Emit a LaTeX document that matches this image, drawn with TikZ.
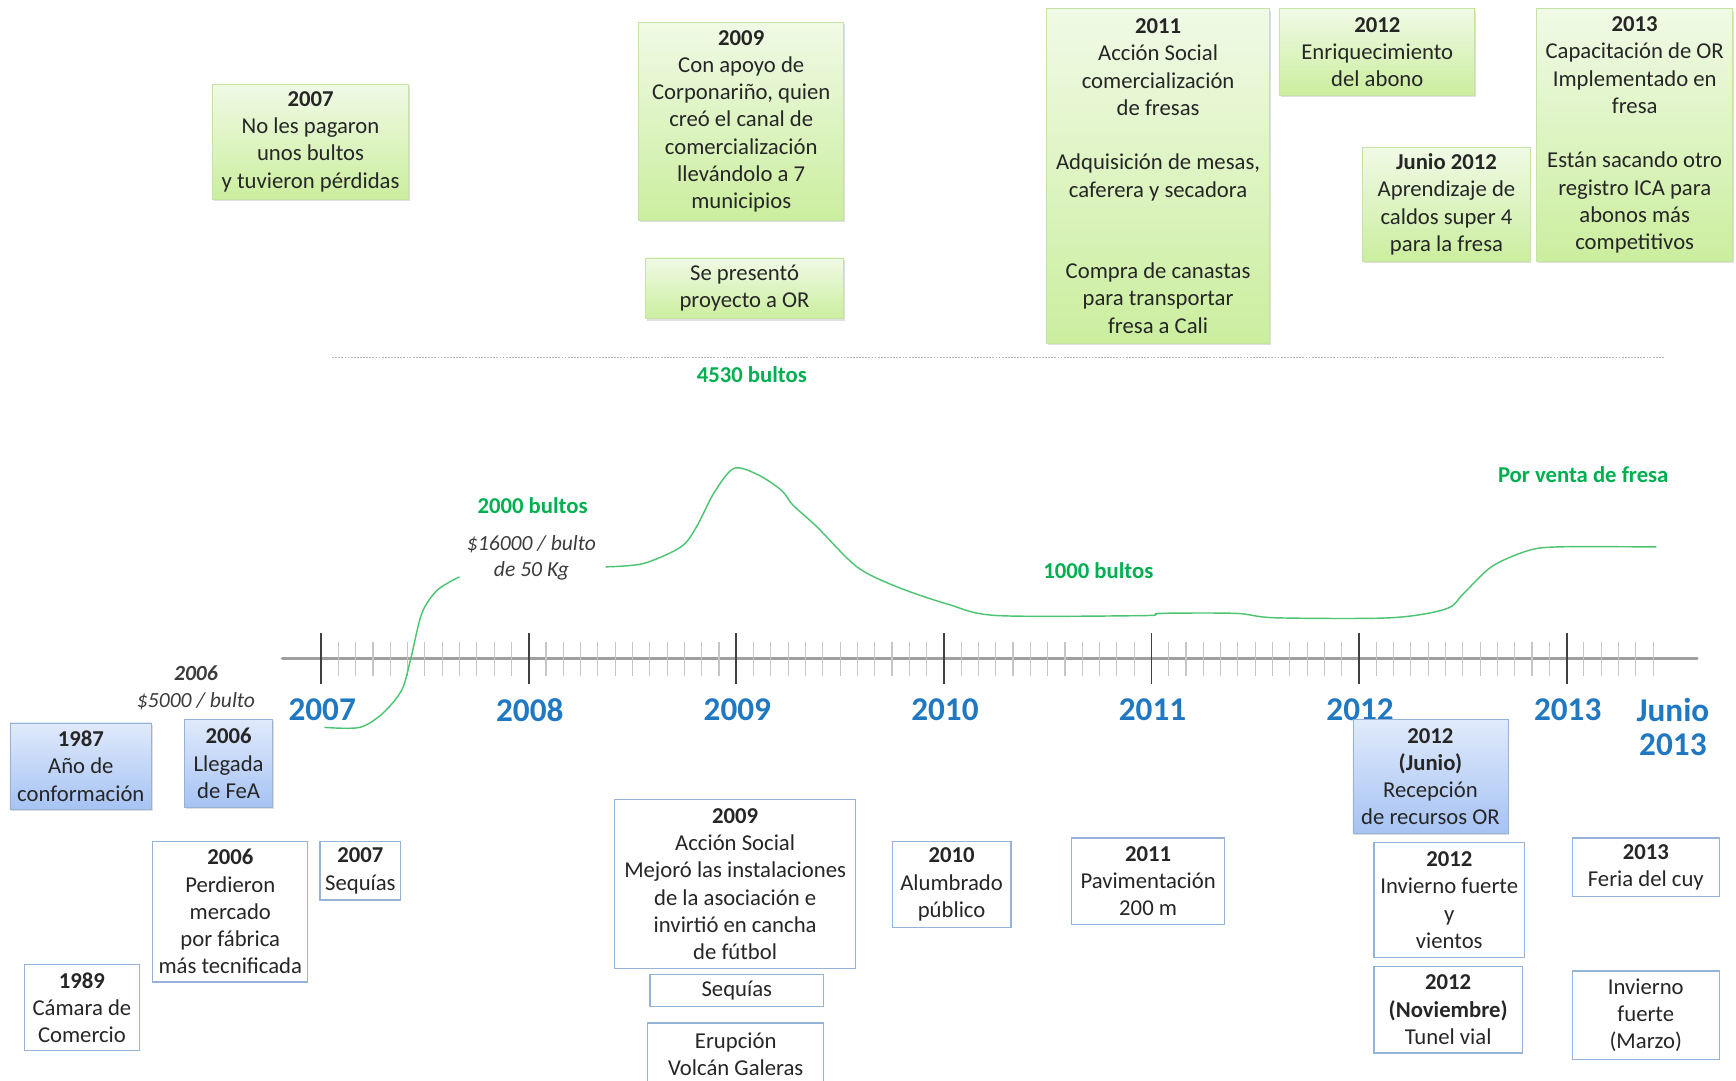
\documentclass[tikz,border=0pt]{standalone}
\usepackage{fontspec}
\setmainfont{Carlito}
\usepackage{tikz}
\usetikzlibrary{shadows}
\definecolor{leaf}{HTML}{00B050}
\definecolor{curvegreen}{HTML}{4CC472}
\definecolor{yearblue}{HTML}{1F78C1}
\definecolor{inkgray}{HTML}{262626}
\definecolor{palegreen}{HTML}{F0FAE6}
\definecolor{deepgreen}{HTML}{CBEE9E}
\definecolor{greenedge}{HTML}{C4E3A4}
\definecolor{paleblue}{HTML}{E0EAFC}
\definecolor{deepblue}{HTML}{A6C3F3}
\definecolor{blueedge}{HTML}{95B3D7}
\tikzset{%
    every node/.style={text=inkgray, font=\fontsize{20.5}{24.6}\selectfont, align=center, inner sep=0pt},
    boxsize/.style 2 args={minimum width=#1pt, minimum height=#2pt},
    greenbox/.style={draw=greenedge, line width=0.8pt, top color=palegreen, bottom color=deepgreen,
        drop shadow={shadow xshift=1.2pt, shadow yshift=-1.5pt, opacity=0.25}},
    bluebox/.style={draw=blueedge, line width=0.8pt, top color=paleblue, bottom color=deepblue,
        drop shadow={shadow xshift=1.2pt, shadow yshift=-1.5pt, opacity=0.25}},
    whitebox/.style={draw=blueedge, line width=1.2pt, fill=white},
    greennote/.style={text=leaf, font=\fontsize{20.5}{24.6}\selectfont\bfseries},
    pricenote/.style={text=inkgray!90, font=\fontsize{19.5}{24}\selectfont\itshape},
    yearlabel/.style={text=yearblue, font=\fontsize{30}{31}\selectfont\bfseries},
    salescurve/.style={curvegreen, line width=1.3pt}
}

\begin{document}
\begin{tikzpicture}[x=1pt, y=-1pt]
    \useasboundingbox (0,0) rectangle (1568,976);
    % time axis
    \draw[gray!75, line width=2.5pt, line cap=round] (255,595) -- (1533,595);
    \foreach \m in {1,...,77}{
        \pgfmathtruncatemacro{\r}{mod(\m,12)}
        \ifnum\r=0\else
            \draw[gray!45, line width=1pt] ({290+\m*15.625},580) -- ({290+\m*15.625},611);
        \fi
    }
    \foreach \yr [count=\i from 0] in {2007,...,2013}{
        \draw[black!75, line width=1.6pt] ({290+\i*187.5},572) -- ({290+\i*187.5},618);
        \node[yearlabel] (y\yr) at ({291+\i*187.5},641) {\yr};
    }
    \node[yearlabel] (yJunio) at (1511,656.5) {Junio\\2013};
    % sales curve
    \draw[salescurve] plot[smooth, tension=0.5] coordinates {(293,657) (325,657) (346,644) (363,623)
        (371,595) (381,554) (395,533) (415,521)};
    \draw[salescurve] plot[smooth, tension=0.5] coordinates {(547,512) (581,509) (615,494) (629,476)
        (645,445) (663,423) (685,429) (706,443) (716,456) (738,476) (774,512) (810,530) (857,546)
        (901,556) (1034,556) (1048,554) (1116,554) (1152,558) (1256,558) (1306,550) (1322,536)
        (1347,512) (1378,498) (1406,494) (1496,494)};
    \draw[gray!55, line width=1.6pt, dash pattern=on 1.6pt off 1.2pt] (300,323) -- (1503,323);
    % notes
    \node[greennote] (bultos4530) at (679,338) {4530 bultos};
    \node[greennote] (bultos2000) at (481,457) {2000 bultos};
    \node[pricenote] (precio16) at (480,504) {\$16000 / bulto\\de 50 Kg};
    \node[greennote] (bultos1000) at (992,515) {1000 bultos};
    \node[greennote] (ventaFresa) at (1430,429) {Por venta de fresa};
    \node[pricenote] (precio5) at (177,621.5) {\textbf{2006}\\\$5000 / bulto};
    % top events
    \node[greenbox, boxsize={177}{104}] (noPago) at (280.5,128) {\textbf{2007}\\No les pagaron\\unos bultos\\y tuvieron pérdidas};
    \node[greenbox, boxsize={185}{179}] (corpo) at (669.5,109.5) {\textbf{2009}\\Con apoyo de\\Corponariño, quien\\creó el canal de\\comercialización\\llevándolo a 7\\municipios};
    \node[greenbox, boxsize={179}{55}] (proyOR) at (672.5,260.5) {Se presentó\\proyecto a OR};
    \node[greenbox, boxsize={202}{302}] (accion11) at (1046,159) {\textbf{2011}\\Acción Social\\comercialización\\de fresas\\[24.6pt]Adquisición de mesas,\\caferera y secadora\\[49.2pt]Compra de canastas\\para transportar\\fresa a Cali};
    \node[greenbox, boxsize={176}{78}] (abono) at (1244,47) {\textbf{2012}\\Enriquecimiento\\del abono};
    \node[greenbox, boxsize={151}{103}] (caldos) at (1306.5,184.5) {\textbf{Junio 2012}\\Aprendizaje de\\caldos super 4\\para la fresa};
    \node[greenbox, boxsize={177}{228}] (capOR) at (1476.5,122) {\textbf{2013}\\Capacitación de OR\\Implementado en\\fresa\\[24.6pt]Están sacando otro\\registro ICA para\\abonos más\\competitivos};
    % bottom events
    \node[bluebox, boxsize={128}{78}] (conform) at (73,692) {\textbf{1987}\\Año de\\conformación};
    \node[bluebox, boxsize={79}{79}] (llegada) at (206.5,689.5) {\textbf{2006}\\Llegada\\de FeA};
    \node[bluebox, boxsize={140}{103}] (recepcion) at (1292,701.5) {\textbf{2012}\\\textbf{(Junio)}\\Recepción\\de recursos OR};
    \node[whitebox, boxsize={140}{127}] (mercado) at (208,823.5) {\textbf{2006}\\Perdieron\\mercado\\por fábrica\\más tecnificada};
    \node[whitebox, boxsize={73}{53}] (sequia07) at (325.5,786.5) {\textbf{2007}\\Sequías};
    \node[whitebox, boxsize={104}{78}] (camara) at (74,910) {\textbf{1989}\\Cámara de\\Comercio};
    \node[whitebox, boxsize={218}{153}] (accion09) at (664,798.5) {\textbf{2009}\\Acción Social\\Mejoró las instalaciones\\de la asociación e\\invirtió en cancha\\de fútbol};
    \node[whitebox, boxsize={157}{29}] (sequia09) at (665.5,894.5) {Sequías};
    \node[whitebox, boxsize={159}{57}] (galeras) at (664.5,952.5) {Erupción\\Volcán Galeras};
    \node[whitebox, boxsize={107}{78}] (alumbrado) at (859.5,799) {\textbf{2010}\\Alumbrado\\público};
    \node[whitebox, boxsize={138}{78}] (paviment) at (1037,796) {\textbf{2011}\\Pavimentación\\200 m};
    \node[whitebox, boxsize={136}{104}] (invierno12) at (1309,813) {\textbf{2012}\\Invierno fuerte\\y\\vientos};
    \node[whitebox, boxsize={134}{78}] (tunel) at (1308,912) {\textbf{2012}\\\textbf{(Noviembre)}\\Tunel vial};
    \node[whitebox, boxsize={133}{53}] (feria) at (1486.5,783.5) {\textbf{2013}\\Feria del cuy};
    \node[whitebox, boxsize={133}{80}] (invierno13) at (1486.5,917) {Invierno\\fuerte\\(Marzo)};
\end{tikzpicture}
\end{document}
